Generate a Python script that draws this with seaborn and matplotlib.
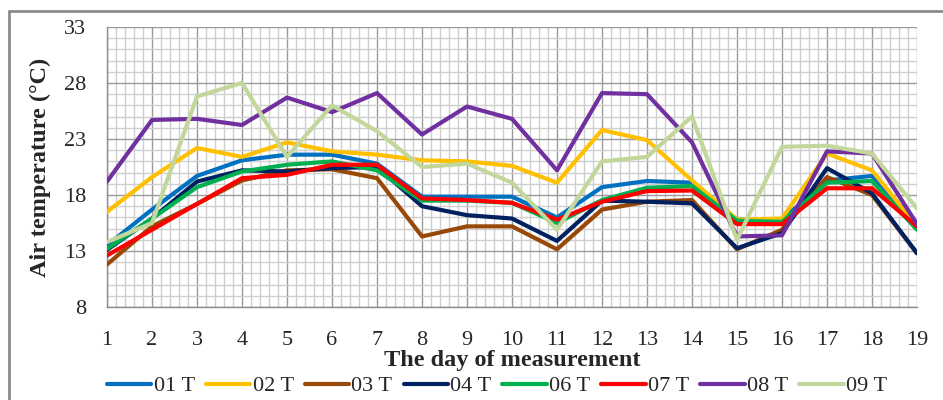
import numpy as np
import pandas as pd
import matplotlib
matplotlib.use("Agg")
import matplotlib.pyplot as plt
from matplotlib.lines import Line2D
from matplotlib.ticker import MultipleLocator, FixedLocator
import seaborn as sns

days = list(range(1, 20))
series_names = ["01 T", "02 T", "03 T", "04 T", "06 T", "07 T", "08 T", "09 T"]
y_ticks = [8, 13, 18, 23, 28, 33]

t01 = [13.5, 16.7, 19.7, 21.1, 21.6, 21.6, 20.8, 17.85, 17.85, 17.85, 16.0, 18.7, 19.25, 19.1, 15.8, 15.8, 19.3, 19.7, 15.1]
t02 = [16.5, 19.6, 22.2, 21.4, 22.7, 21.9, 21.6, 21.1, 21.0, 20.6, 19.1, 23.8, 22.9, 19.3, 15.8, 15.9, 21.7, 20.2, 15.2]
t03 = [11.8, 15.2, 17.2, 19.3, 20.2, 20.3, 19.5, 14.3, 15.2, 15.2, 13.15, 16.7, 17.4, 17.55, 13.15, 14.9, 19.6, 18.0, 12.8]
t04 = [13.1, 15.9, 19.2, 20.2, 20.1, 20.4, 20.5, 17.0, 16.2, 15.9, 13.9, 17.5, 17.4, 17.25, 13.25, 14.6, 20.4, 18.15, 12.8]
t06 = [13.2, 15.9, 18.7, 20.1, 20.7, 21.0, 20.2, 17.5, 17.5, 17.3, 15.5, 17.55, 18.65, 18.8, 15.7, 15.6, 19.1, 19.25, 14.9]
t07 = [12.6, 14.9, 17.2, 19.5, 19.8, 20.7, 20.7, 17.7, 17.55, 17.3, 15.8, 17.4, 18.35, 18.4, 15.4, 15.4, 18.6, 18.6, 15.2]
t08 = [19.2, 24.7, 24.8, 24.25, 26.7, 25.4, 27.1, 23.4, 25.9, 24.8, 20.2, 27.1, 27.0, 22.7, 14.3, 14.4, 21.9, 21.7, 15.4]
t09 = [13.8, 15.5, 26.8, 28.0, 21.4, 26.0, 23.7, 20.5, 20.8, 19.1, 14.9, 21.0, 21.4, 25.0, 14.0, 22.3, 22.4, 21.7, 16.8]

colors = ["#0070C0", "#FFC000", "#984807", "#002060", "#00B050", "#FF0000", "#7030A0", "#C3D69B"]

all_vals = [t01, t02, t03, t04, t06, t07, t08, t09]
df = pd.concat(
    [pd.DataFrame({"day": days, "temp": v, "series": n}) for n, v in zip(series_names, all_vals)],
    ignore_index=True,
)

sns.set_style("white")
plt.rcParams["font.family"] = ["Liberation Serif", "DejaVu Serif"]

fig = plt.figure(figsize=(9.43, 4.0), dpi=100)
ax = fig.add_axes([107 / 943, 1 - 307 / 400, (917 - 107) / 943, (307 - 27) / 400])

sns.lineplot(data=df, x="day", y="temp", hue="series", hue_order=series_names,
             palette=colors, linewidth=3.0, ax=ax, legend=False, zorder=3)

ax.set_xlim(1, 19)
ax.set_ylim(8, 33)
ax.xaxis.set_major_locator(MultipleLocator(1))
ax.xaxis.set_minor_locator(MultipleLocator(0.2))
ax.yaxis.set_major_locator(FixedLocator(y_ticks))
ax.yaxis.set_minor_locator(MultipleLocator(1))
ax.grid(which="minor", color="#CFCFCF", linewidth=1.0, zorder=0)
ax.grid(which="major", color="#9A9A9A", linewidth=1.0, zorder=1)
ax.set_axisbelow(True)
for s in ["top", "right"]:
    ax.spines[s].set_visible(False)
for s in ["left", "bottom"]:
    ax.spines[s].set_color("#8C8C8C")
    ax.spines[s].set_linewidth(1.0)

ax.tick_params(axis="both", which="major", direction="out", length=7, width=1, color="#8C8C8C",
               labelsize=16, pad=10)
ax.tick_params(axis="both", which="minor", length=0)
ax.tick_params(axis="y", pad=8)

ax.set_xlabel("The day of measurement", fontsize=17.5, fontweight="bold", labelpad=0)
ax.set_ylabel("Air temperature (°C)", fontsize=17.5, fontweight="bold", labelpad=9)

handles = [Line2D([0], [0], color=c, linewidth=3.0) for c in colors]
fig.legend(handles, series_names, loc="center", bbox_to_anchor=(497 / 943, 1 - 386 / 400),
           ncol=8, frameon=False, fontsize=16, handlelength=2.0, handletextpad=0.1,
           columnspacing=0.5, borderaxespad=0)

# outer chart border (partially visible)
fig.add_artist(Line2D([9 / 943, 1.0], [1 - 11 / 400, 1 - 11 / 400], transform=fig.transFigure,
                      color="#8C8C8C", linewidth=2))
fig.add_artist(Line2D([9 / 943, 9 / 943], [0, 1 - 11 / 400], transform=fig.transFigure,
                      color="#8C8C8C", linewidth=2))

fig.savefig("out.png", dpi=100)
